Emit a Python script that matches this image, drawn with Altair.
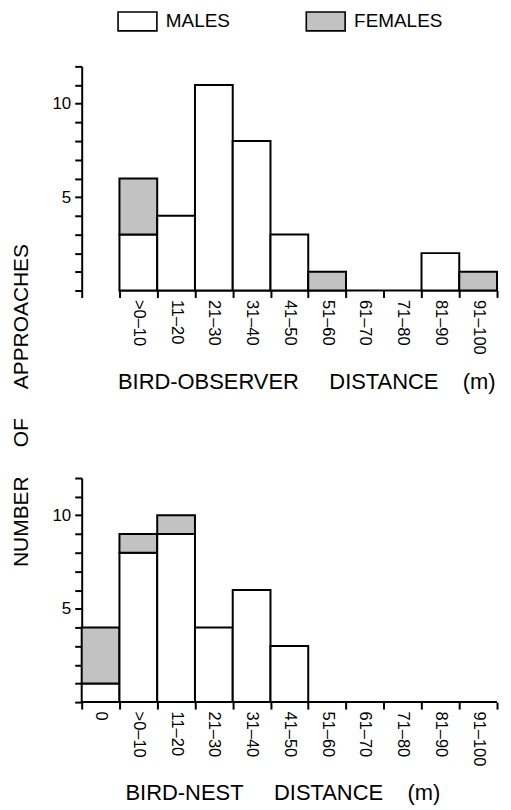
import json
import altair as alt
import pandas as pd

# ---------------- data ----------------
obs_categories = [">0–10", "11–20", "21–30", "31–40", "41–50",
                  "51–60", "61–70", "71–80", "81–90", "91–100"]
obs_males = [3, 4, 11, 8, 3, 0, 0, 0, 2, 0]
obs_females = [3, 0, 0, 0, 0, 1, 0, 0, 0, 1]
obs_offset = 1  # the "0" slot is empty in the upper panel

nest_categories = ["0", ">0–10", "11–20", "21–30", "31–40", "41–50",
                   "51–60", "61–70", "71–80", "81–90", "91–100"]
nest_males = [1, 8, 9, 4, 6, 3, 0, 0, 0, 0, 0]
nest_females = [3, 1, 1, 0, 0, 0, 0, 0, 0, 0, 0]
nest_offset = 0

n_slots = 11
y_ticks = list(range(0, 13))
y_labelled = [5, 10]
sexes = ["MALES", "FEMALES"]
fills = ["white", "#c2c2c2"]

FONT = "Liberation Sans"
NB = "\u00a0"

PLOT_W = 417
PLOT_H = 225


def long_form(cats, males, females, offset):
    rows = []
    for i, (c, m, f) in enumerate(zip(cats, males, females)):
        s = i + offset
        if m > 0:
            rows.append(dict(cat=c, sex="MALES", x0=s, x1=s + 1, y0=0, y1=m))
        if f > 0:
            rows.append(dict(cat=c, sex="FEMALES", x0=s, x1=s + 1, y0=m, y1=m + f))
    return pd.DataFrame(rows)


# legend symbol: 39 x 19 box, starting at the entry's left edge
legend = alt.Legend(
    orient="none", legendX=35.5, legendY=-56, direction="horizontal",
    title=None, symbolType="M-1,-1H3.105V1H-1Z", symbolSize=361,
    symbolStrokeColor="black", symbolStrokeWidth=1.6, symbolOpacity=1,
    labelFont=FONT, labelFontSize=19, labelColor="black", labelOffset=28,
    columnPadding=72, padding=0,
)


def panel(cats, males, females, offset, xtitle, xtitle_x, ytitle):
    df = long_form(cats, males, females, offset)
    xscale = alt.Scale(domain=[0, n_slots], nice=False, zero=False)
    yscale = alt.Scale(domain=[0, 12], nice=False)

    label_vals = [offset + i + 0.5 for i in range(len(cats))]
    label_expr = f"{json.dumps(cats, ensure_ascii=False)}[floor(datum.value) - {offset}]"
    labelled = " || ".join(f"datum.value == {v}" for v in y_labelled)

    yaxis_kw = dict(
        values=y_ticks, grid=False,
        labelExpr=f"{labelled} ? datum.label : ''",
        labelFont=FONT, labelFontSize=17, labelColor="black", labelPadding=4,
        tickSize=7, tickWidth=2, tickColor="black",
        domainColor="black", domainWidth=2,
    )
    if ytitle:
        yaxis = alt.Axis(title=ytitle, titleX=-54.5, titleY=340, titleAngle=-90,
                         titleBaseline="alphabetic", titleAlign="center",
                         titleFont=FONT, titleFontSize=21, titleFontWeight="normal",
                         titleColor="black", **yaxis_kw)
    else:
        yaxis = alt.Axis(title=None, **yaxis_kw)

    label_axis = alt.Axis(
        orient="bottom", values=label_vals, labelExpr=label_expr,
        ticks=False, domain=False, grid=False,
        labelAngle=90, labelAlign="left", labelBaseline="middle",
        labelFont=FONT, labelFontSize=16.5, labelColor="black", labelPadding=9,
        title=xtitle, titleX=xtitle_x, titleY=98, titleBaseline="alphabetic",
        titleAlign="center", titleFont=FONT, titleFontSize=22,
        titleFontWeight="normal", titleColor="black",
    )
    tick_axis = alt.Axis(
        orient="bottom", values=list(range(0, n_slots + 1)), labels=False,
        domain=False, grid=False, tickSize=7, tickWidth=2, tickColor="black",
        title=None,
    )

    bars = alt.Chart(df).mark_rect(stroke="black", strokeWidth=2).encode(
        x=alt.X("x0:Q", scale=xscale, axis=label_axis),
        x2="x1:Q",
        y=alt.Y("y0:Q", scale=yscale, axis=yaxis),
        y2="y1:Q",
        fill=alt.Fill("sex:N", scale=alt.Scale(domain=sexes, range=fills),
                      legend=legend),
    )

    base_df = pd.DataFrame({"x0": [offset], "x1": [n_slots], "y0": [0]})
    baseline = alt.Chart(base_df).mark_rule(color="black", strokeWidth=2).encode(
        x=alt.X("x0:Q", scale=xscale, axis=tick_axis),
        x2="x1:Q",
        y=alt.Y("y0:Q", scale=yscale, axis=yaxis),
    )

    return (
        alt.layer(baseline, bars)
        .resolve_axis(x="independent")
        .properties(width=PLOT_W, height=PLOT_H)
    )


top = panel(obs_categories, obs_males, obs_females, obs_offset,
            f"BIRD-OBSERVER{NB*5}DISTANCE{NB*4}(m)", 225.5,
            f"NUMBER{NB*5}OF{NB*5}APPROACHES")
bottom = panel(nest_categories, nest_males, nest_females, nest_offset,
               f"BIRD-NEST{NB*5}DISTANCE{NB*4}(m)", 201.5, None)

chart = (
    alt.vconcat(top, bottom, spacing=188.3, bounds="flush")
    .properties(padding={"left": 2, "top": 1, "right": 5, "bottom": 0},
                background="white")
    .configure_view(stroke=None)
)

chart.save("out.html", embed_options={"renderer": "svg", "actions": False})
